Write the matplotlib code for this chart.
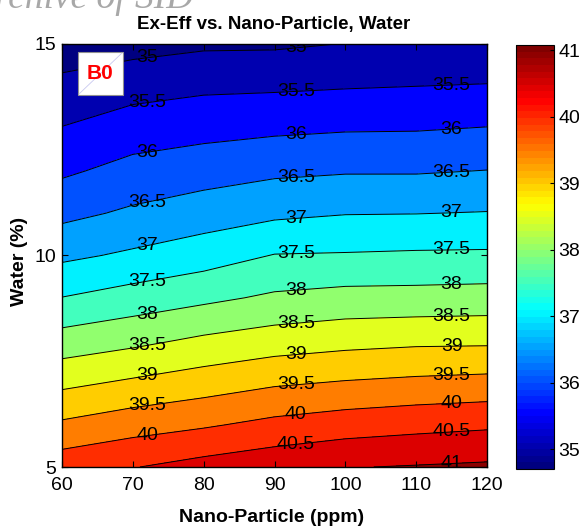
import numpy as np
import matplotlib
matplotlib.use('Agg')
import matplotlib.pyplot as plt
from matplotlib.colors import LinearSegmentedColormap, Normalize
from matplotlib.cm import ScalarMappable
from matplotlib.patches import Rectangle

plt.rcParams['font.family'] = ['Liberation Sans', 'DejaVu Sans']

nano = np.array([60, 70, 80, 90, 100, 110, 120])          # ppm
water = np.array([5, 6, 7, 8, 9, 10, 11, 12, 13, 14, 15])  # %
# exergy efficiency, rows = water, cols = nano-particle
ex_eff = np.array([
    [40.30, 40.48, 40.68, 40.84, 40.98, 41.03, 41.08],
    [39.58, 39.79, 39.94, 40.13, 40.26, 40.35, 40.42],
    [38.88, 39.07, 39.25, 39.43, 39.53, 39.60, 39.65],
    [38.20, 38.37, 38.58, 38.73, 38.83, 38.89, 38.90],
    [37.51, 37.71, 37.89, 38.08, 38.17, 38.18, 38.21],
    [36.90, 37.08, 37.27, 37.52, 37.54, 37.57, 37.58],
    [36.37, 36.58, 36.75, 36.90, 36.98, 36.99, 37.02],
    [35.92, 36.16, 36.29, 36.41, 36.46, 36.46, 36.51],
    [35.52, 35.75, 35.84, 35.91, 35.96, 35.97, 36.02],
    [35.14, 35.31, 35.41, 35.43, 35.47, 35.50, 35.53],
    [34.70, 34.82, 34.92, 34.93, 35.01, 35.03, 35.04],
])
contour_levels = [35, 35.5, 36, 36.5, 37, 37.5, 38, 38.5, 39, 39.5, 40, 40.5, 41]
label_x = [72, 93, 115]
cbar_ticks = [35, 36, 37, 38, 39, 40, 41]

# matlab style jet
jet_nodes = [(0, (0, 0, 0.5)), (1/8, (0, 0, 1)), (3/8, (0, 1, 1)),
             (5/8, (1, 1, 0)), (7/8, (1, 0, 0)), (1, (0.5, 0, 0))]
jet = LinearSegmentedColormap.from_list('mjet', jet_nodes, N=256)
jet64 = LinearSegmentedColormap.from_list('mjet64', jet_nodes, N=64)

zmin, zmax = ex_eff.min(), ex_eff.max()
norm = Normalize(zmin, zmax)
fill_levels = [zmin] + contour_levels + [zmax]
# each band takes the colour of its lower bound
fill_colors = [jet(norm(v)) for v in fill_levels[:-1]]

fig = plt.figure(figsize=(5.79, 5.28), dpi=100)
ax = fig.add_axes([62/579, 61/528, 425/579, 423/528])

X, Y = np.meshgrid(nano, water)
ax.contourf(X, Y, ex_eff, levels=fill_levels, colors=fill_colors)
cs = ax.contour(X, Y, ex_eff, levels=contour_levels, colors='k', linewidths=0.7)

# label positions: walk each column and find where the level sits
spots = []
for lev in contour_levels:
    for xl in label_x:
        col = np.array([np.interp(xl, nano, row) for row in ex_eff])
        if col.min() <= lev <= col.max():
            yl = np.interp(lev, col[::-1], water[::-1])
            if water[0] + 0.05 < yl < water[-1]:
                spots.append((xl, yl))
labels = ax.clabel(cs, contour_levels, inline=False, fontsize=14, colors='k',
                   fmt='%g', manual=spots)
for t in labels:
    t.set_rotation(0)
    t.set_clip_on(True)

ax.set_xlim(60, 120)
ax.set_ylim(5, 15)
ax.set_xticks([60, 70, 80, 90, 100, 110, 120])
ax.set_yticks([5, 10, 15])
ax.tick_params(direction='in', top=True, right=True, length=4, labelsize=14)
ax.tick_params(axis='x', pad=7)
ax.tick_params(axis='y', pad=4)
for s in ax.spines.values():
    s.set_linewidth(1.0)

# B0 tag in the corner
ax.add_patch(Rectangle((16/425, 1 - 51/423), 45/425, 43/423, transform=ax.transAxes,
                       facecolor='white', edgecolor='#909090', linewidth=0.8, zorder=5))
ax.plot([17/425, 60/425], [1 - 50/423, 1 - 9/423], transform=ax.transAxes,
        color='#c8c8f0', linewidth=0.6, zorder=6)
ax.text(38.5/425, 1 - 29.5/423, 'B0', transform=ax.transAxes, color='red',
        fontsize=15, fontweight='bold', ha='center', va='center', zorder=7)

cax = fig.add_axes([516/579, 59/528, 38/579, 424/528])
cb = fig.colorbar(ScalarMappable(norm=norm, cmap=jet64), cax=cax, ticks=cbar_ticks)
cb.outline.set_linewidth(0.8)
cax.tick_params(direction='in', length=3, labelsize=14, pad=3)

fig.text(274/579, 1 - 29.5/528, 'Ex-Eff vs. Nano-Particle, Water', ha='center',
         va='baseline', fontsize=13.5, fontweight='bold')
fig.text(272/579, 1 - 522/528, 'Nano-Particle (ppm)', ha='center', va='baseline',
         fontsize=14, fontweight='bold')
fig.text(19/579, 1 - 261/528, 'Water (%)', ha='center', va='center', rotation=90,
         fontsize=14, fontweight='bold')
fig.text(193/579, 1 - 8/528, 'Archive of SID', ha='right', va='baseline',
         fontsize=27, style='italic', color='#a8a8a8', family='Liberation Serif')

fig.savefig('out.png', dpi=100)
